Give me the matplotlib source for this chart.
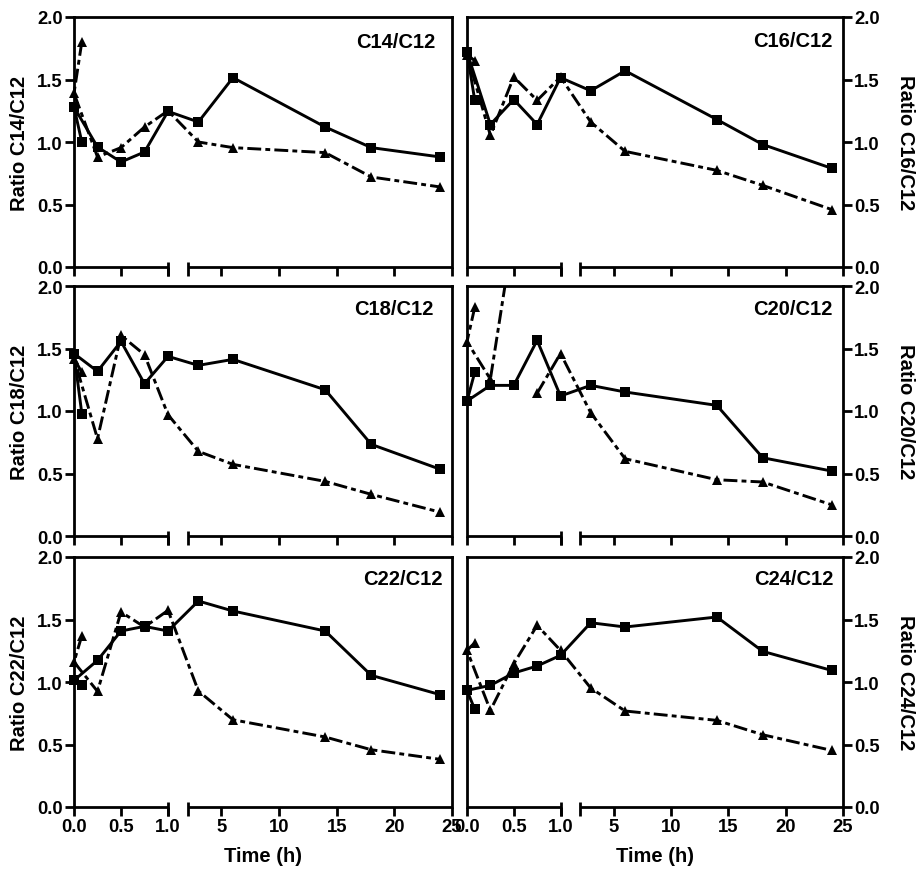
import numpy as np
import matplotlib
matplotlib.use("Agg")
import matplotlib.pyplot as plt
from matplotlib.patches import Rectangle

plt.rcParams['font.family'] = ['Liberation Sans', 'DejaVu Sans']
plt.rcParams['font.weight'] = 'bold'
plt.rcParams['lines.scale_dashes'] = False

# ---------------- data ----------------
# sampling order as connected in the original (5 min point listed first)
time_h = [0.083, 0.0, 0.25, 0.5, 0.75, 1.0, 3.0, 6.0, 14.0, 18.0, 24.0]
panels = ["C14/C12", "C16/C12", "C18/C12", "C20/C12", "C22/C12", "C24/C12"]

c14_sq = [1.00, 1.28, 0.96, 0.84, 0.92, 1.245, 1.16, 1.515, 1.12, 0.955, 0.88]
c14_tri = [1.80, 1.39, 0.88, 0.955, 1.12, 1.25, 1.00, 0.955, 0.915, 0.72, 0.64]
c16_sq = [1.333, 1.72, 1.14, 1.34, 1.14, 1.515, 1.41, 1.57, 1.18, 0.98, 0.79]
c16_tri = [1.65, 1.70, 1.053, 1.52, 1.333, 1.52, 1.16, 0.925, 0.773, 0.653, 0.46]
c18_sq = [0.98, 1.46, 1.317, 1.557, 1.218, 1.437, 1.365, 1.413, 1.17, 0.733, 0.533]
c18_tri = [1.31, 1.42, 0.778, 1.605, 1.45, 0.97, 0.677, 0.573, 0.437, 0.333, 0.19]
c20_sq = [1.31, 1.08, 1.205, 1.205, 1.565, 1.12, 1.205, 1.152, 1.045, 0.626, 0.52]
c20_tri = [1.83, 1.555, 1.255, 2.45, 1.142, 1.46, 0.986, 0.618, 0.45, 0.432, 0.25]
c22_sq = [0.98, 1.013, 1.173, 1.408, 1.445, 1.408, 1.648, 1.568, 1.408, 1.053, 0.898]
c22_tri = [1.37, 1.16, 0.925, 1.56, 1.44, 1.573, 0.928, 0.698, 0.56, 0.458, 0.381]
c24_sq = [0.781, 0.933, 0.973, 1.072, 1.128, 1.213, 1.474, 1.44, 1.52, 1.245, 1.093]
c24_tri = [1.314, 1.253, 0.773, 1.146, 1.453, 1.253, 0.952, 0.768, 0.693, 0.578, 0.453]

square_series = [c14_sq, c16_sq, c18_sq, c20_sq, c22_sq, c24_sq]
triangle_series = [c14_tri, c16_tri, c18_tri, c20_tri, c22_tri, c24_tri]
# triangle line is interrupted before this index (C20 panel only)
triangle_breaks = [None, None, None, 4, None, None]

xticks = [0.0, 0.5, 1.0, 5, 10, 15, 20, 25]
xticklabels = ["0.0", "0.5", "1.0", "5", "10", "15", "20", "25"]
yticks = [0.0, 0.5, 1.0, 1.5, 2.0]
yticklabels = ["0.0", "0.5", "1.0", "1.5", "2.0"]

# ---------------- broken x scale ----------------
X1, X2, XMAX = 1.0, 2.1, 25.0
GAP = 20.0 / 94.0
K = (264.0 / 94.0) / (XMAX - X2)


def fwd(x):
    x = np.asarray(x, dtype=float)
    return np.where(x <= X1, x,
                    np.where(x < X2, X1 + (x - X1) / (X2 - X1) * GAP,
                             X1 + GAP + (x - X2) * K))


def inv(u):
    u = np.asarray(u, dtype=float)
    return np.where(u <= X1, u,
                    np.where(u < X1 + GAP, X1 + (u - X1) / GAP * (X2 - X1),
                             X2 + (u - X1 - GAP) / K))


W, H = 919, 870
fig = plt.figure(figsize=(W / 100, H / 100), dpi=100)

col_px = [(74, 452), (467, 843)]
row_px = [(18, 268), (287, 537), (558, 808)]
label_pos = [(0.955, 0.90), (0.973, 0.905), (0.952, 0.909),
             (0.973, 0.909), (0.976, 0.913), (0.975, 0.913)]

LW = 2.0
TICKLEN = 6.5
for i, name in enumerate(panels):
    r, c = divmod(i, 2)
    x0, x1 = col_px[c]
    y0, y1 = row_px[r]
    ax = fig.add_axes([x0 / W, 1 - y1 / H, (x1 - x0) / W, (y1 - y0) / H])
    ax.set_xscale('function', functions=(fwd, inv))
    ax.set_xlim(0, XMAX)
    ax.set_ylim(0, 2.0)
    ax.set_facecolor('none')

    clip = Rectangle((-0.08, -0.08), 1.16, 1.08, transform=ax.transAxes)

    tb = triangle_breaks[i]
    tri = triangle_series[i]
    pieces = [(0, len(time_h))] if tb is None else [(0, tb), (tb, len(time_h))]
    for a, b in pieces:
        ln, = ax.plot(time_h[a:b], tri[a:b], color='black', lw=2.1,
                      dashes=(10, 3, 3.5, 3), marker='^', markersize=7.5,
                      markeredgewidth=0)
        ln.set_clip_path(clip)
    ln, = ax.plot(time_h, square_series[i], color='black', lw=2.1,
                  marker='s', markersize=6.5, markeredgewidth=0)
    ln.set_clip_path(clip)

    # spines
    for s in ('left', 'right', 'top'):
        ax.spines[s].set_linewidth(LW)
    ax.spines['bottom'].set_visible(False)
    tr = ax.get_xaxis_transform()
    ax.plot([0, X1], [0, 0], transform=tr, color='black', lw=LW,
            clip_on=False, solid_capstyle='butt')
    ax.plot([X2, XMAX], [0, 0], transform=tr, color='black', lw=LW,
            clip_on=False, solid_capstyle='butt')
    ax.vlines([X1, X2], -9.0 / 250, 5.5 / 250, transform=tr, colors='black',
              lw=LW, clip_on=False)

    ax.set_xticks(xticks)
    ax.set_xticklabels(xticklabels)
    ax.xaxis.set_minor_locator(matplotlib.ticker.NullLocator())
    ax.set_yticks(yticks)
    ax.set_yticklabels(yticklabels)
    ax.tick_params(axis='both', direction='out', length=TICKLEN, width=LW,
                   labelsize=13.3, pad=1.5, top=False)
    if c == 1:
        ax.tick_params(axis='y', left=False, labelleft=False,
                       right=True, labelright=True)
    if r < 2:
        ax.tick_params(axis='x', labelbottom=False)
    else:
        ax.text(0.5, -0.195, "Time (h)", transform=ax.transAxes,
                ha='center', va='center', fontsize=14.5, fontweight='bold')

    lx, ly = label_pos[i]
    ax.text(lx, ly, name, transform=ax.transAxes, ha='right', va='center',
            fontsize=14.5, fontweight='bold')

    yc = 1 - (y0 + y1) / 2 / H
    if c == 0:
        fig.text(20 / W, yc, "Ratio " + name, rotation=90, ha='center',
                 va='center', fontsize=14.5, fontweight='bold')
    else:
        fig.text(906 / W, yc, "Ratio " + name, rotation=-90, ha='center',
                 va='center', fontsize=14.5, fontweight='bold')

fig.savefig("out.png", dpi=100)
